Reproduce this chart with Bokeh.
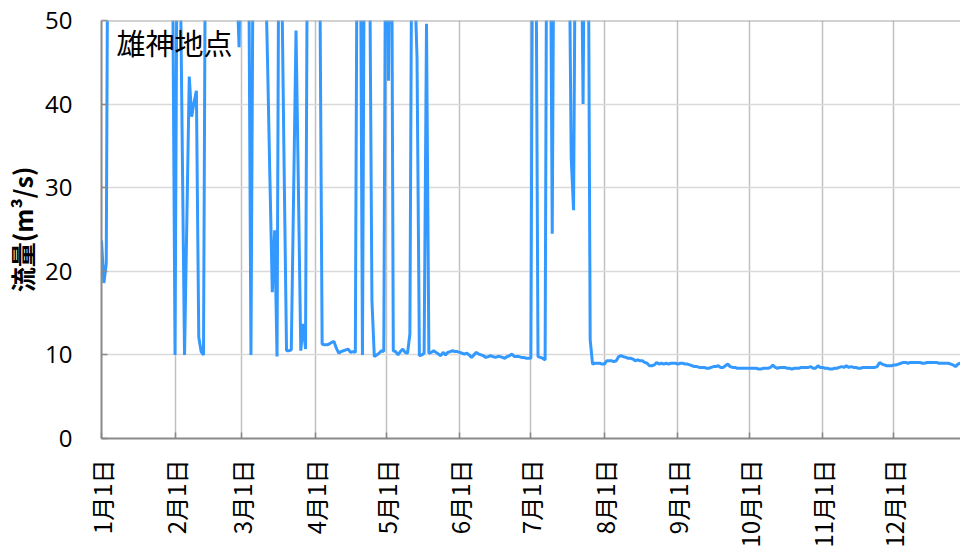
import math
import numpy as np
from bokeh.plotting import figure
from bokeh.models import Range1d, FixedTicker, Label, Span
from bokeh.embed import file_html
from bokeh.resources import INLINE

# Daily flow (m3/s) at 雄神地点, one list per month (values above 50 are off-scale)
flow_jan = [23.7, 18.6, 20.9, 85, 120, 140, 110, 95, 80, 72, 68, 75, 90, 130, 160, 120,
            100, 88, 78, 70, 66, 62, 70, 85, 95, 80, 72, 66, 60, 58, 56]
flow_feb = [10.0, 70, 62, 36, 10.0, 26.5, 43.3, 38.5, 40.2, 41.6, 12.1, 10.4, 10.0, 75,
            110, 150, 130, 100, 85, 95, 120, 90, 75, 68, 62, 58, 55, 46.8]
flow_mar = [70, 80, 75, 62, 10.0, 65, 90, 110, 95, 80, 58, 45, 31, 17.5, 24.9, 9.8, 80,
            55, 32, 10.5, 10.5, 10.6, 29.6, 48.8, 30, 10.5, 13.7, 10.7, 75, 95, 85]
flow_apr = [90, 70, 58, 11.3, 11.2, 11.2, 11.3, 11.5, 11.6, 10.8, 10.2, 10.4, 10.5, 10.6,
            10.7, 10.3, 10.4, 10.3, 80, 70, 10.0, 75, 90, 60, 16.5, 9.8, 10.0, 10.2, 10.5, 10.4]
flow_may = [80, 42.8, 85, 10.5, 10.4, 10.0, 10.4, 10.7, 10.3, 10.2, 12.5, 75, 55, 45.6,
            9.9, 10.0, 10.2, 49.6, 10.2, 10.3, 10.5, 10.3, 10.1, 9.9, 10.3, 10.0, 10.3,
            10.4, 10.5, 10.4, 10.4]
flow_jun = [10.3, 10.2, 10.1, 10.2, 10.0, 9.7, 10.0, 10.3, 10.1, 10.0, 9.9, 9.7, 9.8, 9.9,
            9.8, 9.7, 9.8, 9.8, 9.7, 9.6, 9.8, 9.9, 10.1, 9.8, 9.8, 9.8, 9.7, 9.7, 9.6, 9.6]
flow_jul = [9.6, 85, 70, 9.8, 9.7, 9.6, 9.4, 90, 75, 24.5, 80, 110, 140, 120, 95, 80, 65,
            33.6, 27.3, 75, 95, 70, 40.0, 80, 75, 11.8, 8.9, 9.0, 9.0, 9.0, 8.9]
flow_aug = [8.9, 9.3, 9.3, 9.3, 9.2, 9.3, 9.8, 9.9, 9.8, 9.7, 9.6, 9.6, 9.5, 9.3, 9.4,
            9.3, 9.3, 9.1, 9.0, 8.7, 8.7, 8.8, 9.1, 8.9, 9.0, 8.9, 9.0, 8.9, 9.0, 9.0, 9.0]
flow_sep = [8.9, 9.0, 9.0, 8.9, 8.9, 8.8, 8.7, 8.6, 8.6, 8.5, 8.5, 8.5, 8.4, 8.4, 8.5,
            8.6, 8.6, 8.7, 8.5, 8.5, 8.7, 8.9, 8.6, 8.5, 8.5, 8.4, 8.4, 8.4, 8.4, 8.4]
flow_oct = [8.4, 8.4, 8.4, 8.4, 8.3, 8.3, 8.4, 8.4, 8.4, 8.5, 8.8, 8.5, 8.4, 8.5, 8.5,
            8.5, 8.4, 8.4, 8.3, 8.4, 8.4, 8.4, 8.5, 8.5, 8.5, 8.5, 8.6, 8.4, 8.4, 8.7, 8.5]
flow_nov = [8.5, 8.4, 8.4, 8.3, 8.3, 8.4, 8.4, 8.5, 8.6, 8.5, 8.7, 8.5, 8.6, 8.5, 8.5,
            8.4, 8.4, 8.5, 8.5, 8.5, 8.5, 8.5, 8.5, 8.6, 9.1, 8.9, 8.8, 8.7, 8.7, 8.7]
flow_dec = [8.8, 8.8, 8.9, 9.0, 9.1, 9.1, 9.0, 9.1, 9.1, 9.1, 9.1, 9.1, 9.0, 9.0, 9.1,
            9.1, 9.1, 9.1, 9.1, 9.0, 9.0, 9.0, 9.0, 9.0, 8.9, 8.8, 8.6, 8.9, 9.0, 9.0, 9.0]

months = [flow_jan, flow_feb, flow_mar, flow_apr, flow_may, flow_jun,
          flow_jul, flow_aug, flow_sep, flow_oct, flow_nov, flow_dec]
tick_labels = ["1月1日", "2月1日", "3月1日", "4月1日", "5月1日", "6月1日",
               "7月1日", "8月1日", "9月1日", "10月1日", "11月1日", "12月1日"]
y_ticks = [0, 10, 20, 30, 40, 50]

flow = [v for m in months for v in m]
days = list(range(len(flow)))
month_lengths = [len(m) for m in months]
tick_days = [int(v) for v in np.concatenate([[0], np.cumsum(month_lengths)[:-1]])]

CJK = "Noto Sans CJK JP"

p = figure(width=960, height=550, output_backend="svg", toolbar_location=None,
           x_range=Range1d(0, 362.1), y_range=Range1d(0, 50),
           min_border_left=101, min_border_right=0, min_border_top=20, min_border_bottom=112)
p.outline_line_color = None
p.background_fill_color = "white"
p.border_fill_color = "white"

# grids
p.xgrid.ticker = FixedTicker(ticks=tick_days)
p.xgrid.grid_line_color = "#C0C0C0"
p.xgrid.grid_line_width = 1.5
p.ygrid.ticker = FixedTicker(ticks=y_ticks)
p.ygrid.grid_line_color = "#D9D9D9"
p.ygrid.grid_line_width = 1.5

p.add_layout(Span(location=50, dimension="width", line_color="#A6A6A6", line_width=2))

p.line(days, flow, line_color="#3399FF", line_width=3)

# axes
p.xaxis.ticker = FixedTicker(ticks=tick_days)
p.xaxis.major_label_overrides = {d: lab for d, lab in zip(tick_days, tick_labels)}
p.xaxis.major_label_orientation = math.pi / 2
p.xaxis.major_label_text_font = CJK
p.xaxis.major_label_text_font_size = "24px"
p.xaxis.major_label_standoff = 21

p.yaxis.ticker = FixedTicker(ticks=y_ticks)
p.yaxis.major_label_text_font = "Open Sans"
p.yaxis.major_label_text_font_size = "24px"
p.yaxis.major_label_standoff = 29
p.yaxis.axis_label = "流量(m³/s)"
p.yaxis.axis_label_text_font = CJK
p.yaxis.axis_label_text_font_style = "bold"
p.yaxis.axis_label_text_font_size = "25px"
p.yaxis.axis_label_standoff = 2

for ax in (p.xaxis, p.yaxis):
    ax.axis_line_color = "#898989"
    ax.axis_line_width = 2
    ax.major_tick_line_color = "#898989"
    ax.major_tick_line_width = 1.5
    ax.major_tick_in = 6
    ax.major_tick_out = 0
    ax.minor_tick_line_color = None
    ax.major_label_text_color = "black"
    ax.axis_label_text_color = "black"

p.add_layout(Label(x=6.3, y=49.9, text="雄神地点", text_font=CJK, text_font_size="29px",
                   text_baseline="top", text_align="left", text_color="black"))

open("out.html", "w").write(file_html(p, INLINE))
